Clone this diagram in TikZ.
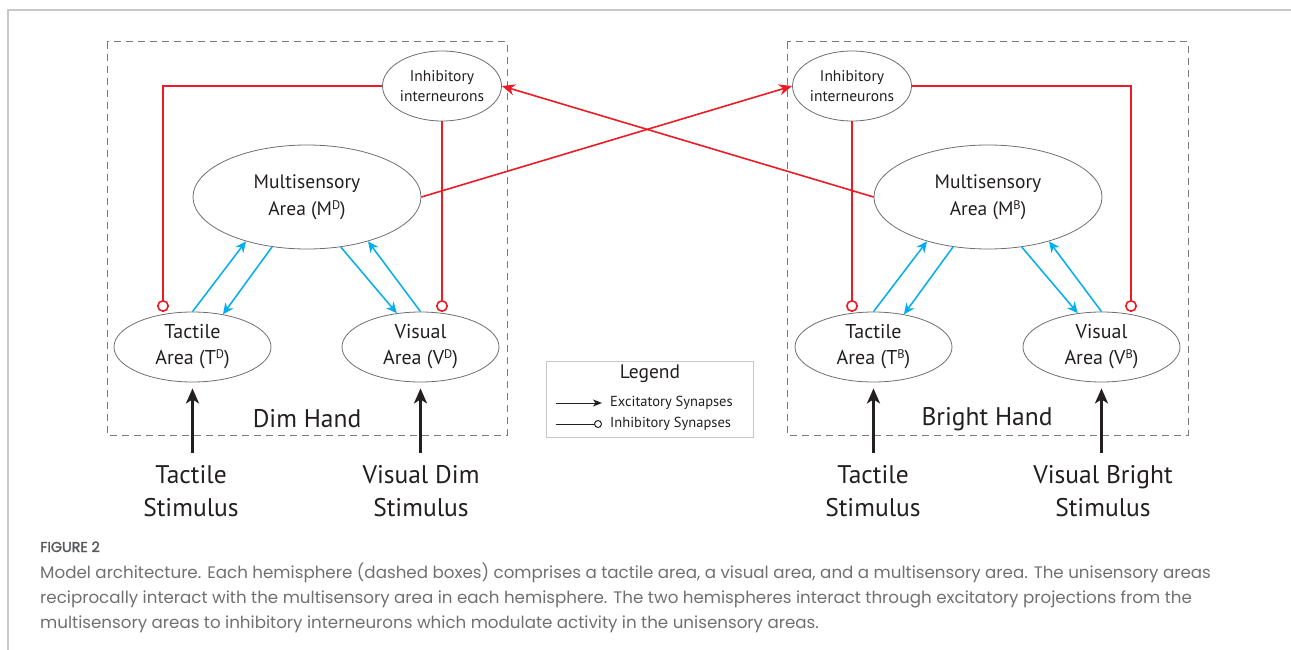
\documentclass[tikz,border=0pt]{standalone}
\usepackage{fontspec}
\setmainfont{PT Sans}
\newfontfamily\capfont{Poppins}
\newfontfamily\capfontb{Poppins}[FakeBold=2]
\usetikzlibrary{shapes.geometric,arrows.meta}
\definecolor{ired}{HTML}{ED1C24}
\definecolor{eblue}{HTML}{00AEEF}
\definecolor{txt}{HTML}{231F20}
\definecolor{edgegray}{HTML}{6D6E71}
\definecolor{dashgray}{HTML}{7A7A7A}
\definecolor{capgray}{HTML}{707070}
\definecolor{figgray}{HTML}{58595B}
\definecolor{framegray}{HTML}{C8C8C8}
\newcommand\supr[1]{\raisebox{0.3em}{\fontsize{12.5}{12.5}\selectfont #1}}
\begin{document}
\begin{tikzpicture}[x=1pt,y=-1pt,
  area/.style={ellipse, draw=edgegray, line width=0.8pt, inner sep=0pt, align=center, text=txt,
    minimum width=157pt, minimum height=70pt, font=\fontsize{20}{26}\selectfont},
  multi/.style={area, minimum width=228pt, minimum height=104pt, font=\fontsize{19.5}{27}\selectfont},
  inh/.style={area, minimum width=113pt, minimum height=70pt, font=\fontsize{15.5}{20}\selectfont},
  hemibox/.style={draw=dashgray, line width=1pt, dash pattern=on 7pt off 5pt},
  inhib/.style={draw=ired, line width=1.6pt, -{Circle[open,length=12pt,width=12pt]}},
  redex/.style={draw=ired, line width=1.6pt, -{Stealth[length=13pt,width=11pt,inset=4pt]}},
  excb/.style={draw=eblue, line width=1.5pt, -{Stealth[length=11pt,width=10pt,inset=3.5pt]}},
  stimarrow/.style={draw=txt, line width=3.5pt, -{Stealth[length=15pt,width=13pt,inset=4pt]}, shorten <=12pt, shorten >=6pt},
  stim/.style={align=center, inner sep=0pt, text=txt, font=\fontsize{25.5}{33}\selectfont},
  hand/.style={inner sep=0pt, text=txt, font=\fontsize{25.5}{30}\selectfont},
  legtxt/.style={inner sep=0pt, text=txt, anchor=west, font=\fontsize{14.5}{18}\selectfont},
  capline/.style={inner sep=0pt, anchor=base west, text=capgray, font=\capfont\fontsize{16.7}{25}\selectfont}
]
\useasboundingbox (0,0) rectangle (1291,650);
% outer frame
\draw[framegray, line width=2pt] (8,650) -- (8,10) -- (1291,10);
% hemisphere boxes
\draw[hemibox] (107,42) rectangle (507,435);
\draw[hemibox] (787,42) rectangle (1188,435);

% left hemisphere
\node[inh] (IL) at (442,86) {Inhibitory\\interneurons};
\node[multi] (ML) at (307,197) {Multisensory\\Area (M\supr{D})};
\node[area] (TL) at (192.5,347) {Tactile\\Area (T\supr{D})};
\node[area] (VL) at (420.5,347) {Visual\\Area (V\supr{D})};
% right hemisphere
\node[inh] (IR) at (852,86) {Inhibitory\\interneurons};
\node[multi] (MR) at (988,197) {Multisensory\\Area (M\supr{B})};
\node[area] (TR) at (873.5,347) {Tactile\\Area (T\supr{B})};
\node[area] (VR) at (1101.5,347) {Visual\\Area (V\supr{B})};

% inhibitory connections
\coordinate (cTL) at (163,312);
\coordinate (cVL) at (442,312);
\coordinate (cTR) at (852,312);
\coordinate (cVR) at (1131,312);
\draw[inhib] (IL.west) -| (cTL);
\draw[inhib] (IL.south) -- (cVL);
\draw[inhib] (IR.south) -- (cTR);
\draw[inhib] (IR.east) -| (cVR);

% cross-hemisphere excitatory
\draw[redex] (ML.east) -- (IR.west);
\draw[redex] (MR.west) -- (IL.east);

% unisensory <-> multisensory
\draw[excb] (TL.north) -- (ML.216.4);
\draw[excb] (ML.235.8) -- (TL.47.3);
\draw[excb] (ML.304.5) -- (VL.125.8);
\draw[excb] (VL.north) -- (ML.324.6);
\draw[excb] (TR.north) -- (MR.216.4);
\draw[excb] (MR.235.8) -- (TR.47.3);
\draw[excb] (MR.304.5) -- (VR.125.8);
\draw[excb] (VR.north) -- (MR.324.6);

% hand labels
\node[hand] (hD) at (307,419) {Dim Hand};
\node[hand] (hB) at (987,419) {Bright Hand};

% stimuli
\node[stim, anchor=base] (sTL) at (191,516) {Tactile\\Stimulus};
\node[stim, anchor=base] (sVL) at (421,516) {Visual Dim\\Stimulus};
\node[stim, anchor=base] (sTR) at (873,516) {Tactile\\Stimulus};
\node[stim, anchor=base] (sVR) at (1103,516) {Visual Bright\\Stimulus};
\draw[stimarrow] (sTL.north -| TL.south) -- (TL.south);
\draw[stimarrow] (sVL.north -| VL.south) -- (VL.south);
\draw[stimarrow] (sTR.north -| TR.south) -- (TR.south);
\draw[stimarrow] (sVR.north -| VR.south) -- (VR.south);

% legend
\node[draw=framegray, line width=1pt, minimum width=207pt, minimum height=76pt, inner sep=0pt] (leg) at (649.5,399.5) {};
\node[inner sep=0pt, text=txt, font=\fontsize{19.5}{24}\selectfont] (legT) at (650,374) {Legend};
\coordinate (le1) at (556,403);
\coordinate (le2) at (602,403);
\coordinate (li1) at (556,424);
\coordinate (li2) at (602,424);
\draw[txt, line width=1pt, -{Stealth[length=9pt,width=7pt,inset=2.5pt]}] (le1) -- (le2);
\draw[txt, line width=1pt, -{Circle[open,length=8pt,width=8pt]}] (li1) -- (li2);
\node[legtxt] (lgE) at (610,403) {Excitatory Synapses};
\node[legtxt] (lgI) at (610,424) {Inhibitory Synapses};

% caption
\node[inner sep=0pt, anchor=base west, text=figgray, font=\capfontb\fontsize{14.3}{16}\selectfont] (fig) at (40,552) {FIGURE 2};
\node[capline] (c1) at (40,578) {Model architecture. Each hemisphere (dashed boxes) comprises a tactile area, a visual area, and a multisensory area. The unisensory areas};
\node[capline] (c2) at (40,603) {reciprocally interact with the multisensory area in each hemisphere. The two hemispheres interact through excitatory projections from the};
\node[capline] (c3) at (40,628) {multisensory areas to inhibitory interneurons which modulate activity in the unisensory areas.};
\end{tikzpicture}
\end{document}
